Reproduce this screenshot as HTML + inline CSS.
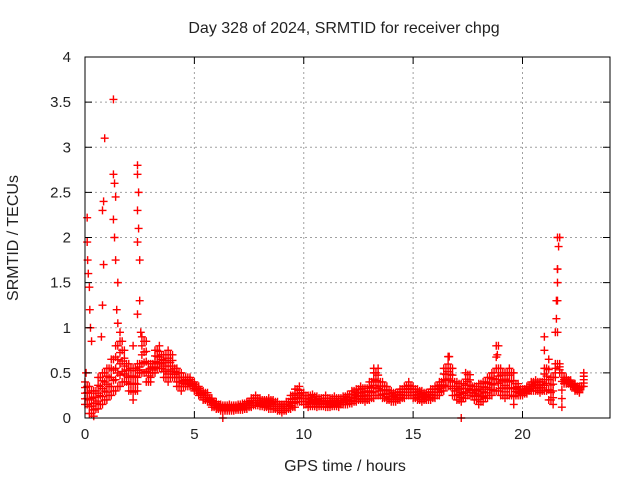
<!DOCTYPE html>
<html><head><meta charset="utf-8"><style>
html,body{margin:0;padding:0;background:#fff;}
svg text{font-family:"Liberation Sans",sans-serif;font-size:15px;fill:#222;}
svg text.big{font-size:16px;}
</style></head><body>
<svg id="chart" width="640" height="480" xmlns="http://www.w3.org/2000/svg">
<rect width="640" height="480" fill="#fff"/>
<text class="big" x="344" y="33" text-anchor="middle">Day 328 of 2024, SRMTID for receiver chpg</text>
<text class="big" x="345" y="471" text-anchor="middle">GPS time / hours</text>
<text class="big" x="18" y="238" text-anchor="middle" transform="rotate(-90 18 238)">SRMTID / TECUs</text>
<g id="grid"></g>
<g id="marks"></g>
<g id="axes"></g>
</svg>
<script>
const xTicks = [0,5,10,15,20];
const yTicks = [0,0.5,1,1.5,2,2.5,3,3.5,4];
const yTickLabels = ["0","0.5","1","1.5","2","2.5","3","3.5","4"];
const bandHours = [0,0.2,0.4,0.6,0.8,1.0,1.2,1.4,1.6,1.8,2.0,2.2,2.4,2.6,2.8,3.0,3.2,3.4,3.6,3.8,4.0,4.2,4.4,4.6,4.8,5.0,5.2,5.4,5.6,5.8,6.0,6.2,6.4,6.6,6.8,7.0,7.2,7.4,7.6,7.8,8.0,8.2,8.4,8.6,8.8,9.0,9.2,9.4,9.6,9.8,10.0,10.2,10.4,10.6,10.8,11.0,11.2,11.4,11.6,11.8,12.0,12.2,12.4,12.6,12.8,13.0,13.2,13.4,13.6,13.8,14.0,14.2,14.4,14.6,14.8,15.0,15.2,15.4,15.6,15.8,16.0,16.2,16.4,16.6,16.8,17.0,17.2,17.4,17.6,17.8,18.0,18.2,18.4,18.6,18.8,19.0,19.2,19.4,19.6,19.8,20.0,20.2,20.4,20.6,20.8,21.0,21.2,21.4,21.6,21.8,22.0,22.2,22.4,22.6,22.8];
const bandHigh = [0.40,0.35,0.30,0.45,0.50,0.55,0.65,0.80,0.85,0.75,0.60,0.55,0.60,0.90,0.85,0.60,0.75,0.80,0.70,0.75,0.70,0.55,0.50,0.45,0.45,0.40,0.35,0.30,0.28,0.22,0.18,0.15,0.14,0.15,0.14,0.15,0.16,0.18,0.22,0.25,0.22,0.20,0.22,0.20,0.18,0.15,0.18,0.25,0.32,0.35,0.28,0.25,0.26,0.24,0.22,0.25,0.22,0.24,0.22,0.24,0.26,0.30,0.32,0.35,0.33,0.40,0.50,0.55,0.40,0.35,0.30,0.28,0.32,0.35,0.40,0.35,0.32,0.30,0.28,0.32,0.35,0.40,0.55,0.68,0.55,0.40,0.38,0.50,0.48,0.35,0.38,0.40,0.45,0.50,0.80,0.55,0.50,0.55,0.50,0.38,0.32,0.35,0.40,0.42,0.40,0.55,0.65,0.45,2.00,0.50,0.45,0.42,0.38,0.35,0.50];
const bandLow = [0.15,0.05,0.02,0.10,0.15,0.20,0.25,0.30,0.35,0.40,0.30,0.20,0.30,0.50,0.40,0.40,0.50,0.55,0.45,0.40,0.45,0.35,0.30,0.35,0.35,0.30,0.25,0.20,0.18,0.12,0.10,0.08,0.08,0.08,0.08,0.09,0.09,0.10,0.12,0.14,0.13,0.12,0.10,0.10,0.08,0.06,0.08,0.10,0.12,0.18,0.15,0.12,0.13,0.12,0.13,0.12,0.12,0.13,0.12,0.15,0.15,0.16,0.18,0.20,0.18,0.20,0.22,0.25,0.22,0.20,0.18,0.18,0.20,0.22,0.25,0.22,0.20,0.18,0.20,0.20,0.22,0.25,0.30,0.35,0.25,0.20,0.18,0.22,0.25,0.20,0.15,0.18,0.22,0.25,0.30,0.25,0.22,0.25,0.15,0.25,0.25,0.27,0.30,0.30,0.28,0.30,0.20,0.15,0.60,0.12,0.38,0.35,0.30,0.28,0.35];
const spikeHours = [0.1,0.1,0.12,0.15,0.2,0.22,0.25,0.3,0.05,0.9,0.85,0.8,0.85,0.8,0.75,1.3,1.3,1.35,1.4,1.3,1.35,1.4,1.5,1.45,1.5,1.6,1.7,2.4,2.4,2.45,2.4,2.45,2.4,2.5,2.5,2.4,2.55,2.2,21.7,21.65,21.6,21.6,21.55,21.55,21.5,21.0,21.0,18.9,18.85,13.2,16.65,6.3,17.2];
const spikeValues = [2.22,1.95,1.75,1.6,1.45,1.2,1.0,0.85,0.5,3.1,2.4,2.3,1.7,1.25,0.9,3.53,2.7,2.6,2.45,2.2,2.0,1.75,1.5,1.2,1.05,0.95,0.85,2.8,2.7,2.5,2.3,2.1,1.95,1.75,1.3,1.15,0.95,0.8,2.0,1.9,1.65,1.5,1.3,1.1,0.95,0.9,0.75,0.8,0.7,0.55,0.68,0,0];

const L=85,R=610,T=57,B=418,XMAX=24,YMAX=4;
const xs=v=>L+(R-L)*v/XMAX;
const ys=v=>B-(B-T)*v/YMAX;
const NS="http://www.w3.org/2000/svg";
const grid=document.getElementById('grid'),marks=document.getElementById('marks'),axes=document.getElementById('axes');
function mk(tag,attrs,parent){const e=document.createElementNS(NS,tag);for(const k in attrs)e.setAttribute(k,attrs[k]);parent.appendChild(e);return e;}
xTicks.forEach(t=>{
  if(t>0){const g=mk('line',{x1:xs(t),x2:xs(t),y1:T,y2:B,stroke:'#a0a0a0','stroke-dasharray':'2,3'},grid);
  
  }
  mk('line',{x1:xs(t),x2:xs(t),y1:B,y2:B-7,stroke:'#000'},axes);
  mk('line',{x1:xs(t),x2:xs(t),y1:T,y2:T+7,stroke:'#000'},axes);
  const tx=mk('text',{x:xs(t),y:B+21,'text-anchor':'middle'},axes);tx.textContent=t;
  
  
});
yTicks.forEach((v,i)=>{
  if(v>0&&v<YMAX){const g=mk('line',{x1:L,x2:R,y1:ys(v),y2:ys(v),stroke:'#a0a0a0','stroke-dasharray':'2,3'},grid);
  
  }
  mk('line',{x1:L,x2:L+7,y1:ys(v),y2:ys(v),stroke:'#000'},axes);
  mk('line',{x1:R,x2:R-7,y1:ys(v),y2:ys(v),stroke:'#000'},axes);
  const tx=mk('text',{x:L-14,y:ys(v)+5,'text-anchor':'end'},axes);tx.textContent=yTickLabels[i];
  
  
});
mk('rect',{x:L,y:T,width:R-L,height:B-T,fill:'none',stroke:'#000','stroke-width':1},axes);
function plus(t,v){
  const x=xs(t),y=ys(v);
  const p=mk('path',{d:`M${x-4},${y}h8M${x},${y-4}v8`,stroke:'#f00','stroke-width':1.4,fill:'none'},marks);
  
  
}
bandHours.forEach((t,i)=>{
  const hi=bandHigh[i],lo=bandLow[i];
  [0,0.25,0.5,0.75,1].forEach(f=>plus(t,lo+(hi-lo)*f));
  if(i<bandHours.length-1){
    const t2=(t+bandHours[i+1])/2;
    const h2=Math.min(hi,bandHigh[i+1]),l2=Math.max(lo,bandLow[i+1]);
    [0,0.33,0.66,1].forEach(f=>plus(t2,l2+(h2-l2)*f));
  }
});
spikeHours.forEach((t,i)=>plus(t,spikeValues[i]));
</script>
</body></html>
